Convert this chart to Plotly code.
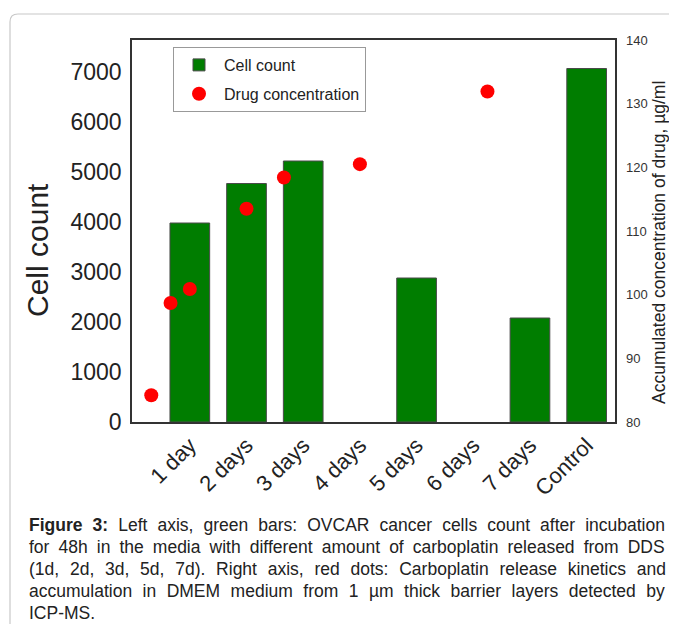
import plotly.graph_objects as go

# ---------------- data ----------------
categories = ["1 day", "2 days", "3 days", "4 days", "5 days", "6 days", "7 days", "Control"]
cell_count = [3980, 4770, 5220, None, 2880, None, 2080, 7070]
drug_days = [0.32, 0.66, 1.0, 2.0, 2.66, 4.0, 6.25]
drug_conc = [84.2, 98.7, 100.9, 113.5, 118.4, 120.5, 131.9]
left_ticks = [0, 1000, 2000, 3000, 4000, 5000, 6000, 7000]
right_ticks = [80, 90, 100, 110, 120, 130, 140]

caption_lines = [
    "<b>Figure 3:</b> Left axis, green bars: OVCAR cancer cells count after incubation",
    "for 48h in the media with different amount of carboplatin released from DDS",
    "(1d, 2d, 3d, 5d, 7d). Right axis, red dots: Carboplatin release kinetics and",
    "accumulation in DMEM medium from 1 µm thick barrier layers detected by",
    "ICP-MS.",
]

# ---------------- layout geometry ----------------
OFF = 8  # page body margin
W, H = 677 - 2 * OFF, 632 - 2 * OFF
L, R, T, B = 132 - OFF, 615 - OFF, 40 - OFF, 422 - OFF  # plot area in figure pixels


def px(x):
    return (x - OFF - L) / (R - L)


def py(y):
    return (B - (y - OFF)) / (B - T)


FONT = "Liberation Sans, Arial, sans-serif"

fig = go.Figure()
fig.add_trace(go.Bar(
    x=list(range(len(categories))), y=cell_count, name="Cell count",
    width=0.7, marker=dict(color="#007d00", line=dict(color="#4a4a4a", width=1)),
    legendgroup="a",
))
fig.add_trace(go.Scatter(
    x=[d - 1 for d in drug_days], y=drug_conc, name="Drug concentration",
    mode="markers", yaxis="y2",
    marker=dict(color="#ff0000", size=14), legendgroup="b",
))

fig.update_layout(
    width=W, height=H,
    margin=dict(l=L, r=W - R, t=T, b=H - B),
    paper_bgcolor="white", plot_bgcolor="white",
    font=dict(family=FONT, color="#222"),
    xaxis=dict(
        range=[-1.02, 7.5], tickvals=list(range(len(categories))), ticktext=categories,
        tickangle=-45, tickfont=dict(size=22, color="#222"),
        showgrid=False, zeroline=False, showline=True, linecolor="#333", linewidth=1.5,
        mirror=True, ticks="",
    ),
    yaxis=dict(
        range=[0, 7640], tickvals=left_ticks, tickfont=dict(size=23, color="#222"),
        showgrid=False, zeroline=False, showline=True, linecolor="#333", linewidth=1.5,
        mirror=True, ticks="", ticklabelstandoff=4,
    ),
    yaxis2=dict(
        range=[80, 140], tickvals=right_ticks, overlaying="y", side="right",
        tickfont=dict(size=13, color="#333"), showgrid=False, zeroline=False,
        showline=False, ticks="", ticklabelstandoff=10,
    ),
    legend=dict(
        x=px(173), y=py(47), xanchor="left", yanchor="top",
        bordercolor="#999", borderwidth=1, bgcolor="white",
        font=dict(size=16, color="#222"), itemwidth=40, tracegroupgap=5,
    ),
    showlegend=True,
)

annotations = [
    dict(text="Cell count", x=px(37), y=py(250), xref="paper", yref="paper",
         xanchor="center", yanchor="middle",
         showarrow=False, textangle=-90, font=dict(size=30, color="#222")),
    dict(text="Accumulated concentration of drug, µg/ml", x=px(659), y=py(243),
         xref="paper", yref="paper", xanchor="center", yanchor="middle",
         showarrow=False, textangle=-90,
         font=dict(size=17.5, color="#222")),
]
line_y = [525, 547, 569, 591, 613]
word_space = [5.2, 4.2, 5.9, 5.6, 0]
for txt, yy, ws in zip(caption_lines, line_y, word_space):
    annotations.append(dict(
        text=f'<span style="word-spacing:{ws}px">{txt}</span>',
        x=px(27), y=py(yy), xref="paper", yref="paper",
        xanchor="left", yanchor="middle", showarrow=False, align="left",
        font=dict(size=17.5, color="#222"),
    ))
fig.update_layout(annotations=annotations)

# rounded outer frame
x0, y0, x1, y1, r = px(10), py(14), px(720), py(680), 8
rx = r / (R - L)
ry = r / (B - T)
path = (f"M {x0} {y0 - ry} Q {x0} {y0} {x0 + rx} {y0} L {x1} {y0} "
        f"M {x0} {y0 - ry} L {x0} {y1}")
fig.add_shape(type="path", path=path, xref="paper", yref="paper",
              line=dict(color="#c8c8c8", width=1.2), layer="below")

fig.write_html("out.html")
